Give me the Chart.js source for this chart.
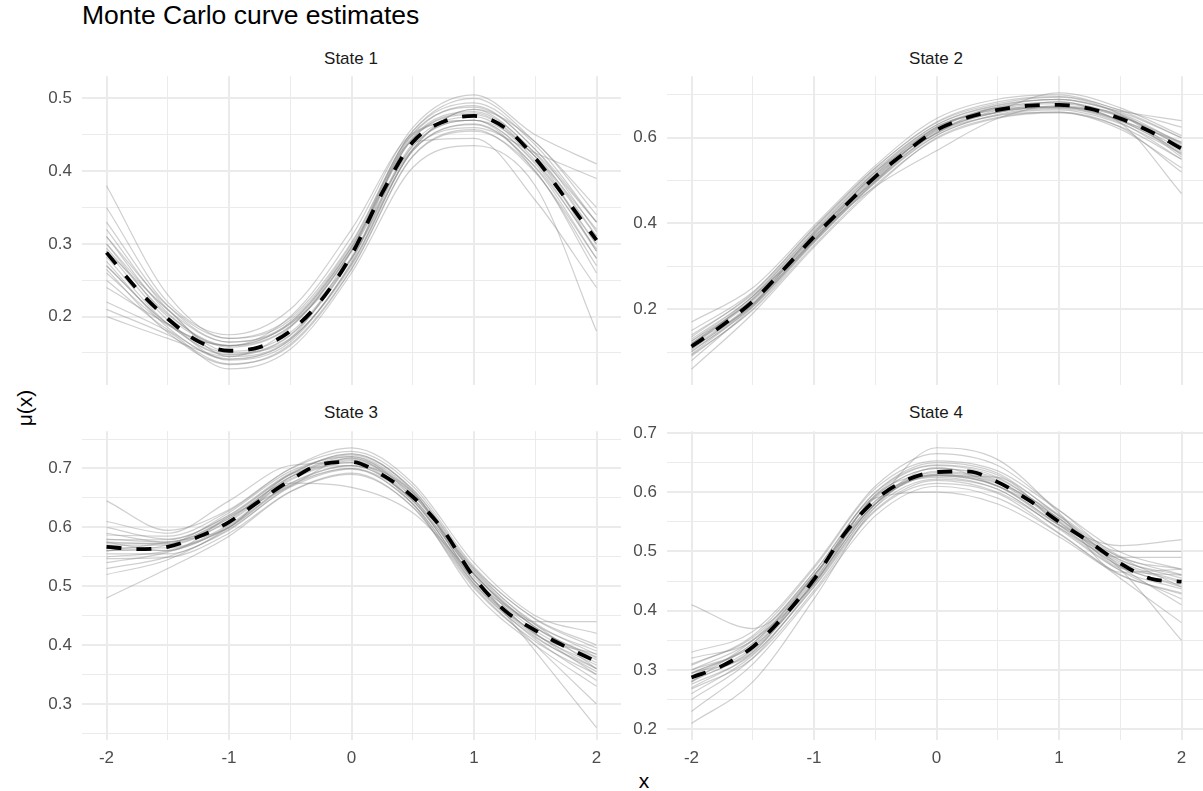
<!DOCTYPE html>
<html><head><meta charset="utf-8">
<script src="https://cdn.jsdelivr.net/npm/chart.js@4"></script>
<style>
html,body{margin:0;padding:0;background:#fff;width:1203px;height:791px;overflow:hidden;position:relative;font-family:'Liberation Sans',Arial,sans-serif;}
canvas{position:absolute;}
.t{position:absolute;white-space:nowrap;}
.strip{position:absolute;width:200px;text-align:center;font-size:17px;line-height:20px;color:#1a1a1a;}
</style></head><body>
<div class="t" style="left:82px;top:0px;font-size:26.5px;line-height:30px;color:#000;">Monte Carlo curve estimates</div>
<div class="strip" style="left:251px;top:49px;">State 1</div>
<div class="strip" style="left:836px;top:49px;">State 2</div>
<div class="strip" style="left:251px;top:403px;">State 3</div>
<div class="strip" style="left:836px;top:403px;">State 4</div>
<div class="t" style="left:0;width:1288px;text-align:center;top:769px;font-size:21px;line-height:24px;color:#000;">x</div>
<div class="t" style="left:25px;top:408px;font-size:21px;line-height:24px;color:#000;transform:translate(-50%,-50%) rotate(-90deg);">μ(x)</div>
<canvas id="c1"></canvas><canvas id="c2"></canvas><canvas id="c3"></canvas><canvas id="c4"></canvas>
<script>
// ---- data ----
const xDraw = [-2, -1.5, -1, -0.5, 0, 0.5, 1, 1.5, 2];
const xMean = [-2, -1.75, -1.5, -1.25, -1, -0.75, -0.5, -0.25, 0, 0.25, 0.5, 0.75, 1, 1.25, 1.5, 1.75, 2];
const xTickLabels = [-2, -1, 0, 1, 2];
const xMinorTicks = [-1.5, -0.5, 0.5, 1.5];

const state1Mean = [0.288, 0.238, 0.197, 0.166, 0.153, 0.158, 0.180, 0.222, 0.285, 0.370, 0.440, 0.468, 0.476, 0.460, 0.418, 0.362, 0.305];
const state1Draws = [
  [0.31, 0.205, 0.158, 0.186, 0.29, 0.445, 0.48, 0.42, 0.31],
  [0.27, 0.19, 0.148, 0.175, 0.28, 0.435, 0.47, 0.41, 0.29],
  [0.33, 0.215, 0.165, 0.19, 0.295, 0.45, 0.49, 0.43, 0.33],
  [0.25, 0.182, 0.142, 0.168, 0.272, 0.428, 0.465, 0.405, 0.28],
  [0.38, 0.23, 0.17, 0.195, 0.30, 0.455, 0.50, 0.44, 0.35],
  [0.21, 0.175, 0.135, 0.16, 0.265, 0.42, 0.455, 0.40, 0.26],
  [0.30, 0.20, 0.16, 0.20, 0.31, 0.46, 0.505, 0.45, 0.41],
  [0.22, 0.18, 0.128, 0.155, 0.26, 0.405, 0.435, 0.38, 0.18],
  [0.35, 0.22, 0.175, 0.21, 0.32, 0.452, 0.47, 0.40, 0.27],
  [0.24, 0.19, 0.15, 0.17, 0.27, 0.43, 0.485, 0.44, 0.34],
  [0.29, 0.195, 0.14, 0.165, 0.275, 0.44, 0.445, 0.36, 0.24],
  [0.20, 0.17, 0.145, 0.185, 0.29, 0.43, 0.46, 0.425, 0.39],
  [0.32, 0.21, 0.152, 0.178, 0.282, 0.438, 0.475, 0.415, 0.30],
  [0.26, 0.188, 0.16, 0.192, 0.295, 0.445, 0.478, 0.42, 0.32],
  [0.30, 0.209, 0.165, 0.192, 0.297, 0.452, 0.488, 0.43, 0.317],
  [0.276, 0.185, 0.141, 0.168, 0.273, 0.428, 0.464, 0.406, 0.293],
  [0.31, 0.215, 0.17, 0.198, 0.302, 0.455, 0.494, 0.436, 0.33],
  [0.265, 0.178, 0.134, 0.162, 0.266, 0.421, 0.457, 0.398, 0.28],
  [0.294, 0.203, 0.16, 0.187, 0.292, 0.447, 0.482, 0.424, 0.311],
  [0.282, 0.19, 0.147, 0.174, 0.279, 0.434, 0.47, 0.412, 0.299],
  [0.29, 0.21, 0.145, 0.17, 0.29, 0.45, 0.47, 0.42, 0.29],
  [0.27, 0.19, 0.16, 0.19, 0.28, 0.43, 0.485, 0.425, 0.33]
];
const state1YTicks = [0.2, 0.3, 0.4, 0.5];
const state1YMinor = [0.15, 0.25, 0.35, 0.45];

const state2Mean = [0.113, 0.162, 0.218, 0.292, 0.369, 0.440, 0.509, 0.567, 0.618, 0.647, 0.665, 0.675, 0.677, 0.668, 0.645, 0.614, 0.575];
const state2Draws = [
  [0.12, 0.225, 0.375, 0.515, 0.622, 0.668, 0.68, 0.65, 0.58],
  [0.10, 0.21, 0.362, 0.50, 0.612, 0.66, 0.672, 0.64, 0.565],
  [0.14, 0.235, 0.385, 0.525, 0.63, 0.675, 0.69, 0.66, 0.60],
  [0.09, 0.20, 0.355, 0.495, 0.605, 0.655, 0.668, 0.635, 0.55],
  [0.17, 0.25, 0.395, 0.535, 0.645, 0.69, 0.70, 0.665, 0.625],
  [0.06, 0.19, 0.345, 0.485, 0.60, 0.648, 0.66, 0.625, 0.52],
  [0.11, 0.215, 0.37, 0.486, 0.57, 0.645, 0.675, 0.65, 0.59],
  [0.13, 0.23, 0.38, 0.52, 0.625, 0.665, 0.672, 0.635, 0.47],
  [0.08, 0.205, 0.36, 0.505, 0.62, 0.672, 0.69, 0.662, 0.64],
  [0.125, 0.222, 0.372, 0.512, 0.615, 0.66, 0.673, 0.642, 0.575],
  [0.105, 0.212, 0.366, 0.507, 0.62, 0.67, 0.683, 0.652, 0.585],
  [0.15, 0.24, 0.39, 0.53, 0.635, 0.68, 0.695, 0.655, 0.555],
  [0.095, 0.208, 0.358, 0.498, 0.61, 0.652, 0.66, 0.62, 0.53],
  [0.118, 0.22, 0.368, 0.51, 0.617, 0.665, 0.705, 0.67, 0.605],
  [0.125, 0.23, 0.381, 0.521, 0.63, 0.677, 0.689, 0.657, 0.587],
  [0.101, 0.206, 0.357, 0.497, 0.606, 0.653, 0.665, 0.633, 0.563],
  [0.135, 0.238, 0.389, 0.529, 0.637, 0.684, 0.696, 0.664, 0.60],
  [0.093, 0.198, 0.349, 0.489, 0.598, 0.646, 0.658, 0.626, 0.55],
  [0.119, 0.224, 0.375, 0.515, 0.624, 0.671, 0.683, 0.651, 0.581],
  [0.107, 0.212, 0.363, 0.503, 0.612, 0.659, 0.671, 0.639, 0.569],
  [0.11, 0.23, 0.36, 0.52, 0.61, 0.67, 0.67, 0.655, 0.56],
  [0.12, 0.21, 0.378, 0.50, 0.626, 0.66, 0.685, 0.64, 0.59]
];
const state2YTicks = [0.2, 0.4, 0.6];
const state2YMinor = [0.1, 0.3, 0.5, 0.7];

const state3Mean = [0.567, 0.563, 0.567, 0.584, 0.609, 0.645, 0.680, 0.707, 0.711, 0.689, 0.652, 0.595, 0.515, 0.459, 0.425, 0.397, 0.372];
const state3Draws = [
  [0.57, 0.57, 0.612, 0.685, 0.715, 0.655, 0.52, 0.43, 0.375],
  [0.55, 0.56, 0.60, 0.675, 0.705, 0.645, 0.51, 0.42, 0.36],
  [0.60, 0.58, 0.62, 0.69, 0.725, 0.665, 0.53, 0.435, 0.39],
  [0.53, 0.55, 0.595, 0.67, 0.70, 0.64, 0.505, 0.41, 0.34],
  [0.645, 0.595, 0.63, 0.70, 0.735, 0.675, 0.54, 0.45, 0.42],
  [0.48, 0.53, 0.585, 0.66, 0.69, 0.635, 0.50, 0.40, 0.30],
  [0.59, 0.575, 0.615, 0.675, 0.668, 0.625, 0.52, 0.44, 0.44],
  [0.52, 0.545, 0.60, 0.685, 0.72, 0.66, 0.52, 0.39, 0.26],
  [0.61, 0.59, 0.645, 0.705, 0.71, 0.64, 0.49, 0.40, 0.33],
  [0.565, 0.565, 0.605, 0.68, 0.71, 0.65, 0.515, 0.425, 0.37],
  [0.575, 0.572, 0.61, 0.682, 0.713, 0.655, 0.525, 0.43, 0.38],
  [0.54, 0.558, 0.60, 0.672, 0.70, 0.648, 0.53, 0.445, 0.40],
  [0.58, 0.575, 0.618, 0.69, 0.725, 0.662, 0.51, 0.415, 0.355],
  [0.56, 0.57, 0.625, 0.695, 0.72, 0.65, 0.505, 0.42, 0.35],
  [0.579, 0.579, 0.621, 0.692, 0.723, 0.664, 0.527, 0.437, 0.384],
  [0.555, 0.555, 0.597, 0.668, 0.699, 0.64, 0.503, 0.413, 0.36],
  [0.587, 0.585, 0.628, 0.699, 0.729, 0.67, 0.533, 0.444, 0.395],
  [0.547, 0.549, 0.59, 0.661, 0.692, 0.634, 0.497, 0.406, 0.35],
  [0.573, 0.573, 0.615, 0.686, 0.717, 0.658, 0.521, 0.431, 0.378],
  [0.561, 0.561, 0.603, 0.674, 0.705, 0.646, 0.509, 0.419, 0.366],
  [0.56, 0.575, 0.60, 0.69, 0.705, 0.66, 0.51, 0.435, 0.36],
  [0.575, 0.56, 0.618, 0.67, 0.718, 0.645, 0.522, 0.418, 0.385]
];
const state3YTicks = [0.3, 0.4, 0.5, 0.6, 0.7];
const state3YMinor = [0.25, 0.35, 0.45, 0.55, 0.65, 0.75];

const state4Mean = [0.2875, 0.307, 0.339, 0.390, 0.453, 0.530, 0.587, 0.620, 0.634, 0.635, 0.617, 0.587, 0.550, 0.516, 0.480, 0.454, 0.449];
const state4Draws = [
  [0.29, 0.345, 0.458, 0.592, 0.64, 0.62, 0.552, 0.482, 0.45],
  [0.28, 0.335, 0.448, 0.58, 0.628, 0.61, 0.545, 0.475, 0.44],
  [0.31, 0.355, 0.465, 0.60, 0.65, 0.632, 0.56, 0.49, 0.47],
  [0.26, 0.325, 0.44, 0.57, 0.62, 0.60, 0.54, 0.468, 0.42],
  [0.33, 0.365, 0.475, 0.61, 0.665, 0.645, 0.57, 0.50, 0.50],
  [0.23, 0.31, 0.43, 0.56, 0.61, 0.59, 0.53, 0.455, 0.38],
  [0.41, 0.37, 0.46, 0.585, 0.63, 0.61, 0.545, 0.51, 0.52],
  [0.21, 0.28, 0.42, 0.575, 0.635, 0.618, 0.55, 0.47, 0.35],
  [0.30, 0.34, 0.445, 0.58, 0.675, 0.655, 0.565, 0.465, 0.47],
  [0.285, 0.338, 0.452, 0.585, 0.633, 0.616, 0.549, 0.479, 0.448],
  [0.295, 0.342, 0.455, 0.59, 0.60, 0.58, 0.525, 0.46, 0.43],
  [0.27, 0.33, 0.45, 0.595, 0.645, 0.625, 0.555, 0.485, 0.46],
  [0.32, 0.35, 0.46, 0.59, 0.625, 0.605, 0.54, 0.49, 0.49],
  [0.25, 0.32, 0.445, 0.58, 0.63, 0.615, 0.56, 0.475, 0.41],
  [0.30, 0.351, 0.465, 0.599, 0.646, 0.629, 0.562, 0.492, 0.461],
  [0.276, 0.327, 0.441, 0.575, 0.622, 0.605, 0.538, 0.468, 0.437],
  [0.308, 0.358, 0.472, 0.606, 0.653, 0.636, 0.569, 0.499, 0.47],
  [0.268, 0.32, 0.434, 0.568, 0.615, 0.598, 0.531, 0.461, 0.428],
  [0.294, 0.345, 0.459, 0.593, 0.64, 0.623, 0.556, 0.486, 0.455],
  [0.282, 0.333, 0.447, 0.581, 0.628, 0.611, 0.544, 0.474, 0.443],
  [0.28, 0.35, 0.445, 0.595, 0.628, 0.625, 0.545, 0.49, 0.44],
  [0.295, 0.33, 0.46, 0.58, 0.642, 0.61, 0.556, 0.472, 0.46]
];
const state4YTicks = [0.2, 0.3, 0.4, 0.5, 0.6, 0.7];
const state4YMinor = [0.25, 0.35, 0.45, 0.55, 0.65];

// ---- drawing ----
Chart.defaults.font.family = "'Liberation Sans', Arial, sans-serif";
const GRID = '#EBEBEB';
const near = (a, b) => Math.abs(a - b) < 1e-9;
const inList = (v, list) => list.some(t => near(t, v));

function makePanel(id, pos, mean, draws, yMin, yMax, yMajor, yMinor, showX) {
  const cv = document.getElementById(id);
  cv.width = pos.w; cv.height = pos.h;
  cv.style.left = pos.l + 'px'; cv.style.top = pos.t + 'px';
  const datasets = [{
    data: xMean.map((x, i) => ({x, y: mean[i]})),
    borderColor: '#000', borderWidth: 3.8, borderDash: [15, 15], borderCapStyle: 'butt',
    pointRadius: 0, cubicInterpolationMode: 'monotone', fill: false
  }];
  draws.forEach(d => datasets.push({
    data: xDraw.map((x, i) => ({x, y: d[i]})),
    borderColor: 'rgba(135,135,135,0.4)', borderWidth: 1.2,
    pointRadius: 0, cubicInterpolationMode: 'monotone', fill: false
  }));
  const xAll = xTickLabels.concat(xMinorTicks).sort((a, b) => a - b);
  const yAll = yMajor.concat(yMinor).sort((a, b) => a - b);
  new Chart(cv, {
    type: 'line',
    data: {datasets},
    options: {
      responsive: false, animation: false, devicePixelRatio: 1,
      layout: {padding: {top: 20, bottom: 20, left: 0, right: 0}},
      plugins: {legend: {display: false}, tooltip: {enabled: false}},
      scales: {
        x: {
          type: 'linear', min: -2.2, max: 2.2,
          afterBuildTicks: s => { s.ticks = xAll.map(v => ({value: v})); },
          afterFit: s => { s.height = showX ? 30 : 0; },
          border: {display: false},
          grid: {drawTicks: false,
            color: GRID,
            lineWidth: c => (c.tick && inList(c.tick.value, xTickLabels)) ? 2 : 1},
          ticks: {display: showX, autoSkip: false, maxRotation: 0, padding: 8,
            color: '#4D4D4D', font: {size: 17},
            callback: v => inList(v, xTickLabels) ? String(v) : ''}
        },
        y: {
          type: 'linear', min: yMin, max: yMax,
          afterBuildTicks: s => { s.ticks = yAll.map(v => ({value: v})); },
          afterFit: s => { s.width = 82; },
          border: {display: false},
          grid: {drawTicks: false,
            color: GRID,
            lineWidth: c => (c.tick && inList(c.tick.value, yMajor)) ? 2 : 1},
          ticks: {autoSkip: false, padding: 10, color: '#4D4D4D', font: {size: 17},
            callback: v => inList(v, yMajor) ? v.toFixed(1) : ''}
        }
      }
    }
  });
}

makePanel('c1', {l: 0, t: 56, w: 621, h: 349}, state1Mean, state1Draws, 0.1062, 0.5306, state1YTicks, state1YMinor, false);
makePanel('c2', {l: 585, t: 56, w: 621, h: 349}, state2Mean, state2Draws, 0.0235, 0.7438, state2YTicks, state2YMinor, false);
makePanel('c3', {l: 0, t: 411, w: 621, h: 379}, state3Mean, state3Draws, 0.2389, 0.7633, state3YTicks, state3YMinor, true);
makePanel('c4', {l: 585, t: 411, w: 621, h: 379}, state4Mean, state4Draws, 0.182, 0.7029, state4YTicks, state4YMinor, true);
</script>
</body></html>
